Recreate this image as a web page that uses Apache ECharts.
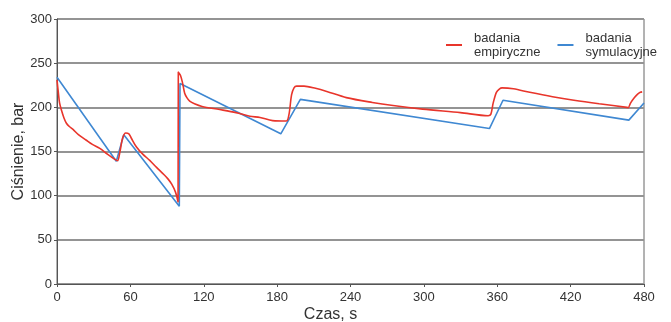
<!DOCTYPE html>
<html>
<head>
<meta charset="utf-8">
<script src="https://cdn.jsdelivr.net/npm/echarts@6/dist/echarts.min.js"></script>
<style>html,body{margin:0;padding:0;background:#fff}#c{width:671px;height:322px}</style>
</head>
<body>
<div id="c"></div>
<script>
var xTicks = [0, 60, 120, 180, 240, 300, 360, 420, 480];
var yTicks = [0, 50, 100, 150, 200, 250, 300];
var seriesNames = ['badania\nempiryczne', 'badania\nsymulacyjne'];

var timeEmp = [0, 1, 2.1, 3.6, 5.7, 7.7, 10.3, 13.1, 17.5, 23.7, 28.9, 35, 41.2, 47.4, 49.5, 51.5, 53.6, 56.2, 58.8, 60.8, 65, 70.1, 75.8, 81.4, 86.6, 90.7, 93.8, 96.9, 99,
  99.2, 101, 102.6, 104.4, 106.2, 108.5, 112.4, 118.6, 133, 146.4, 157.7, 166, 176.3, 187.6, 189.7, 191.8, 193.8, 195.9, 202, 211.4, 220.6, 236.6, 257.8, 274.8, 299, 329.9,
  352.6, 354.7, 356.7, 359.3, 361.9, 363.9, 373.2, 386.6, 405.2, 422.7, 443.3, 466, 467, 469.1, 472.2, 474.8, 477, 478.5];
var pressureEmp = [231, 218, 205, 197, 188, 182, 178, 175, 169, 163, 158, 153.5, 147, 141, 139.5, 150, 165, 171, 170, 165, 155, 147, 140, 132, 125, 119, 113, 104, 93,
  240, 236, 228, 216, 211, 207, 204, 201, 197.5, 194, 190, 188.5, 185, 184.5, 192, 214, 222, 224, 224, 221.5, 218, 211, 205.5, 202, 198, 194,
  190.5, 192, 205, 217, 221, 222, 221, 217, 212, 208, 204, 200, 199.5, 205, 211, 215, 217, 217.5];

var timeSim = [0, 48.5, 54.6, 100, 100.6, 183, 199, 353.6, 364.7, 467.6, 480];
var pressureSim = [234, 139, 169, 88, 227, 170, 209, 176, 208, 185.5, 205];

function pairs(xs, ys) { return xs.map(function (x, i) { return [x, ys[i]]; }); }

var chart = echarts.init(document.getElementById('c'));
var font = 'Liberation Sans, Arial, sans-serif';
chart.setOption({
  animation: false,
  textStyle: { fontFamily: font },
  grid: { left: 57, right: 27, top: 19, bottom: 38, show: true, borderColor: '#666', borderWidth: 1, outerBoundsMode: 'none', containLabel: false },
  legend: {
    right: 9, top: 26, itemWidth: 16, itemHeight: 2, itemGap: 17, icon: 'rect',
    textStyle: { fontFamily: font, fontSize: 13, color: '#333', lineHeight: 14, padding: [0, 0, 0, 7] },
    data: seriesNames
  },
  xAxis: {
    type: 'value', min: xTicks[0], max: xTicks[xTicks.length - 1], interval: 60,
    name: 'Czas, s', nameLocation: 'middle', nameGap: 23, nameMoveOverlap: false,
    nameTextStyle: { fontFamily: font, fontSize: 16, color: '#333', padding: [0, 40, 0, 0] },
    axisLine: { lineStyle: { color: '#555', width: 1 } },
    axisTick: { show: true, length: 3, lineStyle: { color: '#555' } },
    axisLabel: { fontFamily: font, fontSize: 13, color: '#333', margin: 7 },
    splitLine: { show: false }
  },
  yAxis: {
    type: 'value', min: yTicks[0], max: yTicks[yTicks.length - 1], interval: 50,
    name: 'Ciśnienie, bar', nameLocation: 'middle', nameGap: 30, nameMoveOverlap: false,
    nameTextStyle: { fontFamily: font, fontSize: 16, color: '#333' },
    axisLine: { show: true, lineStyle: { color: '#555', width: 1 } },
    axisTick: { show: true, length: 3, lineStyle: { color: '#555' } },
    axisLabel: { fontFamily: font, fontSize: 13, color: '#333', margin: 5 },
    splitLine: { show: true, lineStyle: { color: '#949494', width: 2 } }
  },
  series: [
    {
      name: seriesNames[0], type: 'line', symbol: 'none', smooth: 0.3,
      lineStyle: { color: '#e8352b', width: 1.6 }, itemStyle: { color: '#e8352b' },
      data: pairs(timeEmp, pressureEmp), z: 3
    },
    {
      name: seriesNames[1], type: 'line', symbol: 'none',
      lineStyle: { color: '#3f88d2', width: 1.6 }, itemStyle: { color: '#3f88d2' },
      data: pairs(timeSim, pressureSim), z: 2
    }
  ]
});
</script>
</body>
</html>
